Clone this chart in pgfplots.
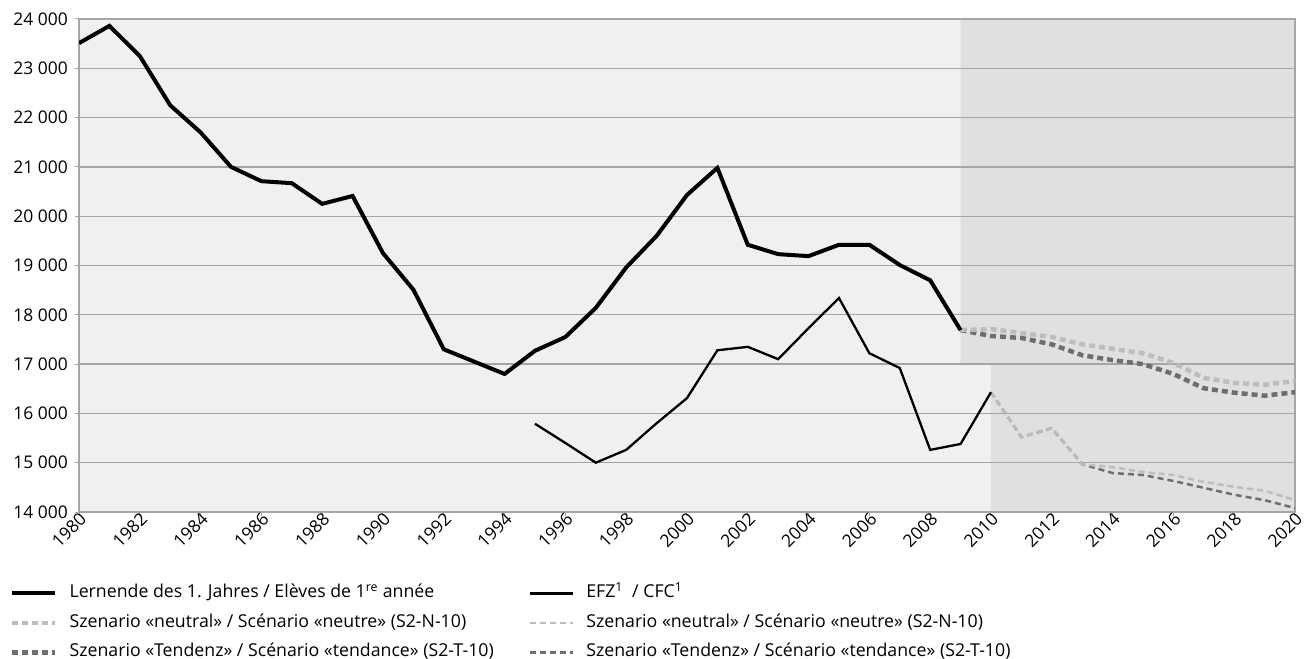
\documentclass[border=0pt]{standalone}
\usepackage{fontspec}
\setmainfont{Open Sans}
\newcommand\lf{\fontsize{17.8}{20}\selectfont}
\newcommand\tf{\fontsize{17.5}{19}\selectfont}
\usepackage{pgfplots}
\pgfplotsset{compat=1.18}
\definecolor{bgl}{HTML}{F0F0F0}
\definecolor{bgd}{HTML}{E0E0E0}
\definecolor{gridc}{HTML}{A6A6A6}
\definecolor{lgray}{HTML}{BDBDBD}
\definecolor{dgray}{HTML}{6E6E6E}
\begin{document}
\begin{tikzpicture}
\begin{axis}[
  at={(0,0)}, anchor=south west,
  width=1216bp, height=493bp, scale only axis,
  xmin=1980, xmax=2020, ymin=14000, ymax=24000,
  xtick={1980,1982,...,2020},
  ytick={14000,15000,...,24000},
  scaled y ticks=false, scaled x ticks=false,
  ymajorgrids, grid style={gridc, line width=1.3bp},
  axis line style={gridc, line width=1.5bp},
  tick style={gridc, line width=1bp},
  tick align=outside, major tick length=4bp,
  xtick pos=bottom, ytick pos=left,
  /pgf/number format/assume math mode=true,
  xticklabel style={/pgf/number format/1000 sep={}, rotate=45, anchor=east, inner sep=0pt, xshift=3bp, yshift=-3bp},
  yticklabel style={/pgf/number format/1000 sep={\ }, inner sep=0pt, xshift=-7bp},
  xticklabel={\tf\pgfmathprintnumber{\tick}},
  yticklabel={\tf\pgfmathprintnumber{\tick}},
  set layers,
  legend columns=2,
  legend cell align=left,
  legend style={at={(-0.0567,-0.148)}, anchor=north west, draw=none, fill=none, inner sep=0pt, outer sep=0pt,
    font=\lf,
    nodes={inner sep=0pt, text height=13bp, text depth=4bp},
    row sep=12.5bp,
    /tikz/every odd column/.append style={column sep=12bp},
    /tikz/column 2/.append style={column sep=35bp}},
  legend image code/.code={\draw[#1] (0bp,0bp) -- (43bp,0bp);},
]
% background shading
\addplot[fill=bgl, draw=none, on layer=axis background, forget plot] coordinates {(1980,14000) (1980,24000) (2020,24000) (2020,14000)};
\addplot[fill=bgd, draw=none, on layer=axis background, forget plot] coordinates {(2009,24000) (2020,24000) (2020,14000) (2010,14000) (2010,17000) (2009,17000)};

% legend
\addlegendimage{black, line width=4bp}
\addlegendentry{\lf Lernende des 1. Jahres / Elèves de 1\textsuperscript{re} année}
\addlegendimage{black, line width=2.3bp}
\addlegendentry{\lf EFZ\textsuperscript{1}\ \ / CFC\textsuperscript{1}}
\addlegendimage{lgray, line width=4.5bp, dash pattern=on 6bp off 4bp}
\addlegendentry{\lf Szenario «neutral» / Scénario «neutre» (S2-N-10)}
\addlegendimage{lgray, line width=2.5bp, dash pattern=on 6bp off 4bp}
\addlegendentry{\lf Szenario «neutral» / Scénario «neutre» (S2-N-10)}
\addlegendimage{dgray, line width=4.5bp, dash pattern=on 6bp off 4bp}
\addlegendentry{\lf Szenario «Tendenz» / Scénario «tendance» (S2-T-10)}
\addlegendimage{dgray, line width=2.5bp, dash pattern=on 6bp off 4bp}
\addlegendentry{\lf Szenario «Tendenz» / Scénario «tendance» (S2-T-10)}

% scenarios (thin)
\addplot[dgray, line width=2.5bp, dash pattern=on 6bp off 4bp, forget plot] coordinates {
(2010,16430) (2011,15520) (2012,15700) (2013,14970) (2014,14790) (2015,14750)
(2016,14630) (2017,14490) (2018,14350) (2019,14240) (2020,14080)};
\addplot[lgray, line width=2.5bp, dash pattern=on 6bp off 4bp, forget plot] coordinates {
(2010,16430) (2011,15520) (2012,15700) (2013,14970) (2014,14910) (2015,14810)
(2016,14750) (2017,14610) (2018,14510) (2019,14430) (2020,14240)};
% scenarios (thick)
\addplot[dgray, line width=4.5bp, dash pattern=on 6bp off 4bp, forget plot] coordinates {
(2009,17690) (2010,17570) (2011,17530) (2012,17400) (2013,17180) (2014,17080)
(2015,17000) (2016,16800) (2017,16510) (2018,16420) (2019,16360) (2020,16430)};
\addplot[lgray, line width=4.5bp, dash pattern=on 6bp off 4bp, forget plot] coordinates {
(2009,17690) (2010,17710) (2011,17630) (2012,17550) (2013,17400) (2014,17310)
(2015,17220) (2016,17020) (2017,16720) (2018,16620) (2019,16580) (2020,16660)};

% EFZ / CFC
\addplot[black, line width=2.3bp, forget plot] coordinates {
(1995,15790) (1996,15400) (1997,15000) (1998,15260) (1999,15800) (2000,16310)
(2001,17280) (2002,17350) (2003,17100) (2004,17730) (2005,18340) (2006,17220)
(2007,16920) (2008,15260) (2009,15380) (2010,16430)};

% Lernende 1. Jahr
\addplot[black, line width=4bp, forget plot] coordinates {
(1980,23510) (1981,23860) (1982,23250) (1983,22250) (1984,21700) (1985,21000)
(1986,20710) (1987,20670) (1988,20250) (1989,20410) (1990,19250) (1991,18510)
(1992,17300) (1993,17050) (1994,16800) (1995,17270) (1996,17550) (1997,18140)
(1998,18960) (1999,19600) (2000,20430) (2001,20980) (2002,19420) (2003,19230)
(2004,19190) (2005,19420) (2006,19420) (2007,19010) (2008,18700) (2009,17690)};
\end{axis}
\pgfresetboundingbox
\path[use as bounding box] (-79bp,-147bp) rectangle (1232bp,512bp);
\end{tikzpicture}
\end{document}
